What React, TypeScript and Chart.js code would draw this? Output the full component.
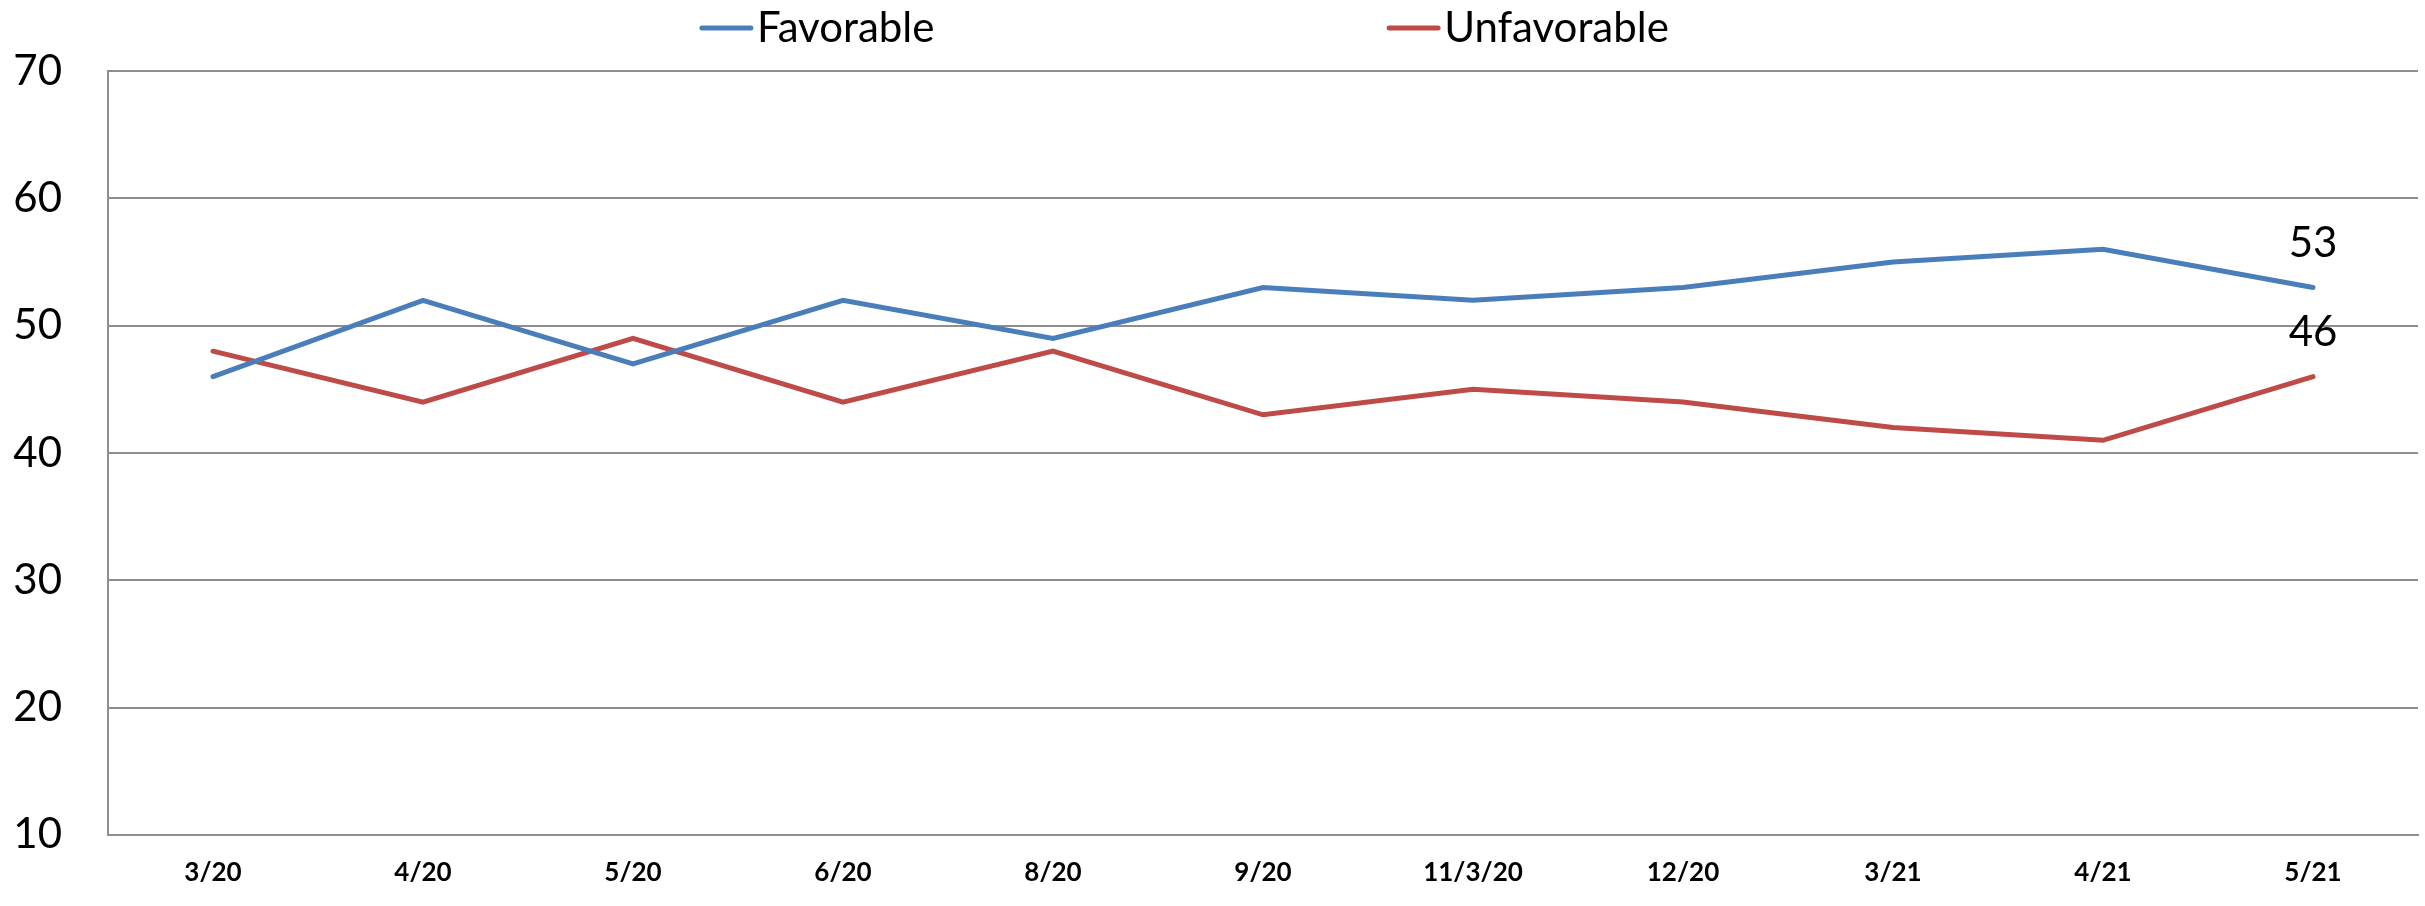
import React, { useEffect, useRef } from "react";
import { Chart, registerables } from "chart.js";

Chart.register(...registerables);

const categories = ["3/20", "4/20", "5/20", "6/20", "8/20", "9/20", "11/3/20", "12/20", "3/21", "4/21", "5/21"];
const favorable = [46, 52, 47, 52, 49, 53, 52, 53, 55, 56, 53];
const unfavorable = [48, 44, 49, 44, 48, 43, 45, 44, 42, 41, 46];
const seriesNames = ["Favorable", "Unfavorable"];
const yMin = 10;
const yMax = 70;
const yStep = 10;
const labeledPoints = [10];

const BLUE = "#4A7EBB";
const RED = "#BE4B48";
const GRID = "#8E8E8E";
const FONT = "Lato, 'Open Sans', sans-serif";

const legendPlugin = {
  id: "excelLegend",
  afterDraw(chart: any) {
    const ctx = chart.ctx;
    const starts = [0.2882, 0.5716];
    chart.data.datasets.forEach((ds: any, i: number) => {
      const x = chart.width * starts[i];
      const y = 28;
      ctx.save();
      ctx.strokeStyle = ds.borderColor;
      ctx.lineWidth = 5;
      ctx.lineCap = "round";
      ctx.beginPath();
      ctx.moveTo(x + 3, y);
      ctx.lineTo(x + 52, y);
      ctx.stroke();
      ctx.fillStyle = "#000";
      ctx.font = `42px ${FONT}`;
      ctx.textBaseline = "middle";
      ctx.textAlign = "left";
      ctx.fillText(ds.label, x + 58, y);
      ctx.restore();
    });
  },
};

const valueLabelPlugin = {
  id: "valueLabels",
  afterDatasetsDraw(chart: any) {
    const ctx = chart.ctx;
    chart.data.datasets.forEach((ds: any, i: number) => {
      const meta = chart.getDatasetMeta(i);
      labeledPoints.forEach((idx) => {
        const pt = meta.data[idx];
        if (!pt) return;
        ctx.save();
        ctx.fillStyle = "#000";
        ctx.font = `42px ${FONT}`;
        ctx.textAlign = "center";
        ctx.textBaseline = "middle";
        ctx.fillText(String(ds.data[idx]), pt.x, pt.y - 44);
        ctx.restore();
      });
    });
  },
};

export default function App() {
  const ref = useRef<HTMLCanvasElement>(null);

  useEffect(() => {
    if (!ref.current) return;
    const chart = new Chart(ref.current, {
      type: "line",
      data: {
        labels: categories,
        datasets: [
          {
            label: seriesNames[0],
            data: favorable,
            borderColor: BLUE,
            backgroundColor: BLUE,
            borderWidth: 5,
            pointRadius: 0,
            tension: 0,
            borderCapStyle: "round",
          },
          {
            label: seriesNames[1],
            data: unfavorable,
            borderColor: RED,
            backgroundColor: RED,
            borderWidth: 5,
            pointRadius: 0,
            tension: 0,
            borderCapStyle: "round",
          },
        ],
      },
      options: {
        animation: false,
        responsive: false,
        layout: { padding: { top: 59, right: 7, bottom: 0, left: 0 } },
        plugins: {
          legend: { display: false },
          tooltip: { enabled: false },
          title: { display: false },
        },
        scales: {
          x: {
            type: "category",
            offset: true,
            grid: { display: false, drawTicks: false },
            border: { display: true, color: GRID, width: 2 },
            ticks: {
              color: "#000",
              font: { family: FONT, size: 26, weight: "bold" },
              padding: 22,
              maxRotation: 0,
              autoSkip: false,
            },
            afterFit: (scale: any) => {
              scale.height = 55;
            },
          },
          y: {
            min: yMin,
            max: yMax,
            grid: { display: true, color: GRID, lineWidth: 2, drawTicks: false },
            border: { display: true, color: GRID, width: 2 },
            ticks: {
              stepSize: yStep,
              color: "#000",
              font: { family: FONT, size: 42 },
              padding: 46,
            },
            afterFit: (scale: any) => {
              scale.width = 108;
            },
          },
        },
      },
      plugins: [legendPlugin, valueLabelPlugin],
    });
    return () => chart.destroy();
  }, []);

  return (
    <div style={{ position: "fixed", left: 0, top: 0, width: 2425, height: 906, background: "#fff" }}>
      <canvas ref={ref} width={2425} height={906} style={{ display: "block" }} />
    </div>
  );
}
